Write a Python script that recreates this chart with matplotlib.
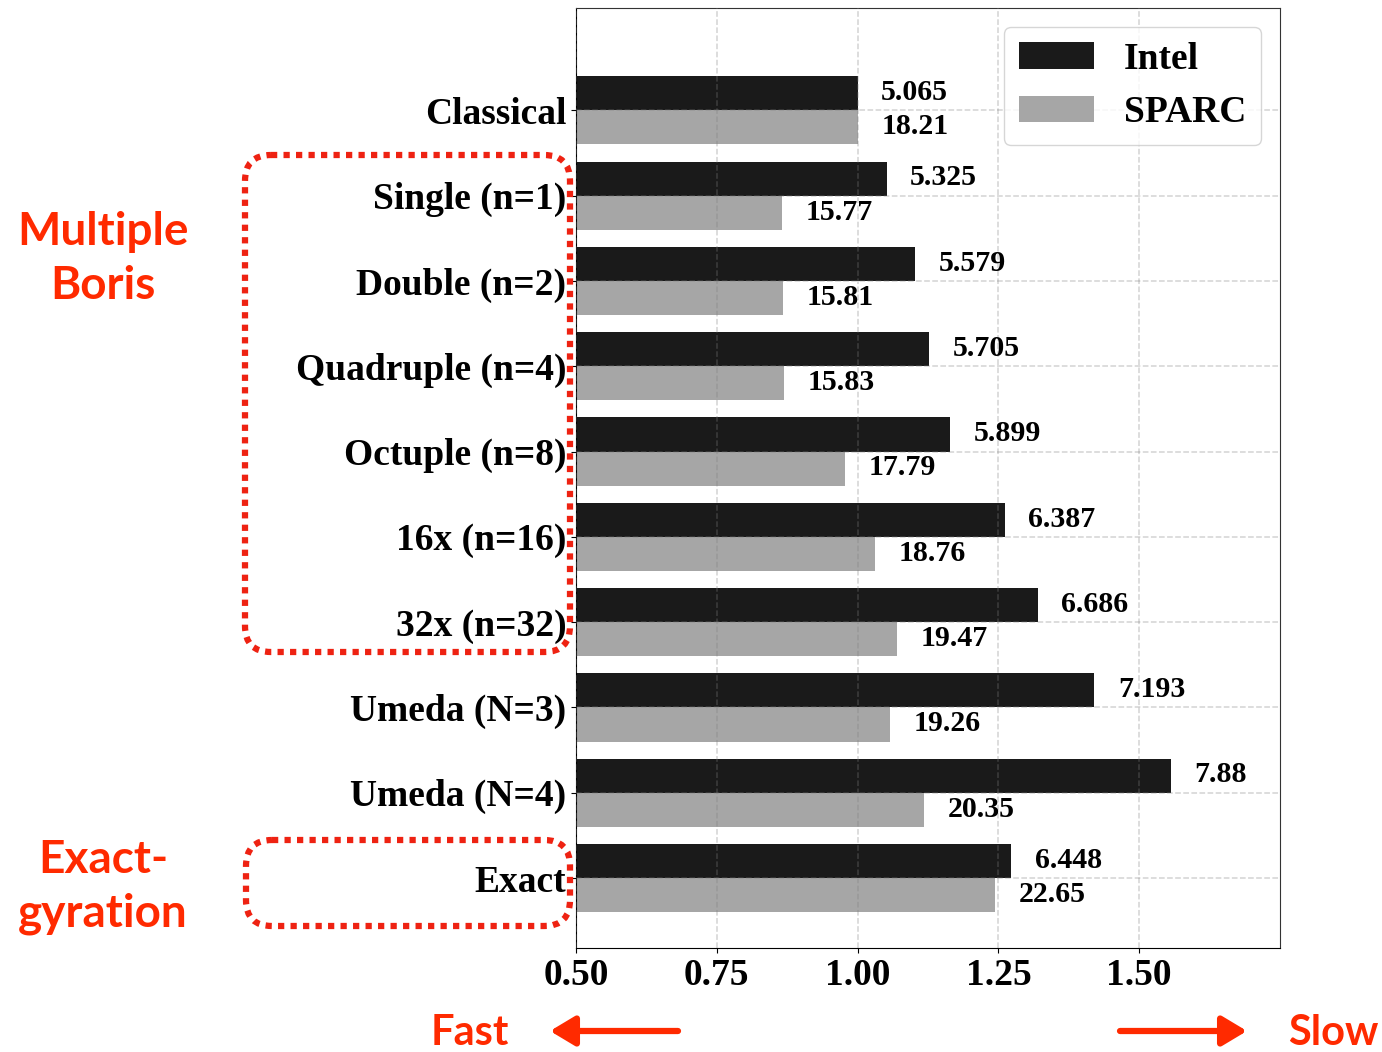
import numpy as np
import matplotlib.pyplot as plt
from matplotlib.patches import FancyBboxPatch

# run times (seconds) per pusher, normalised to Classical below
methods = ['Classical', 'Single (n=1)', 'Double (n=2)', 'Quadruple (n=4)',
           'Octuple (n=8)', '16x (n=16)', '32x (n=32)', 'Umeda (N=3)',
           'Umeda (N=4)', 'Exact']
intel = [5.065, 5.325, 5.579, 5.705, 5.899, 6.387, 6.686, 7.193, 7.88, 6.448]
sparc = [18.21, 15.77, 15.81, 15.83, 17.79, 18.76, 19.47, 19.26, 20.35, 22.65]
xticks = [0.50, 0.75, 1.00, 1.25, 1.50]

intel_rel = np.array(intel) / intel[0]
sparc_rel = np.array(sparc) / sparc[0]

serif = 'Liberation Serif'
red = '#ff2a00'
box_red = '#ee2212'

fig = plt.figure(figsize=(13.82, 10.52), dpi=100)
ax = fig.add_axes([0.4168, 0.0989, 0.9262 - 0.4168, 0.9924 - 0.0989])

y = np.arange(len(methods))
h = 0.4
ax.barh(y - h / 2, intel_rel - 0.5, height=h, left=0.5, color='#1a1a1a', label='Intel')
ax.barh(y + h / 2, sparc_rel - 0.5, height=h, left=0.5, color='#a6a6a6', label='SPARC')

for yi, r, v in zip(y, intel_rel, intel):
    ax.annotate(f'{v:g}', (r, yi - h / 2), xytext=(17, 0.5), textcoords='offset points',
                va='center', ha='left', fontsize=21.5, fontweight='bold', family=serif)
for yi, r, v in zip(y, sparc_rel, sparc):
    ax.annotate(f'{v:g}', (r, yi + h / 2), xytext=(17, 0.5), textcoords='offset points',
                va='center', ha='left', fontsize=21.5, fontweight='bold', family=serif)

ax.set_xlim(0.5, 1.75)
ax.set_ylim(9.82, -1.2)
ax.set_yticks(y)
ax.set_yticklabels(methods)
ax.set_xticks(xticks)
ax.set_xticklabels([f'{t:.2f}' for t in xticks])
for lab in ax.get_xticklabels() + ax.get_yticklabels():
    lab.set_fontsize(27)
    lab.set_fontweight('bold')
    lab.set_family(serif)

ax.set_axisbelow(False)
ax.grid(True, linestyle='--', color='gray', alpha=0.35, linewidth=1.1)
for s in ['top', 'right']:
    ax.spines[s].set_color('#333333')

leg = ax.legend(loc='upper right', prop={'family': serif, 'weight': 'bold', 'size': 27})

# decorations around the axes, placed in pixel units
ov = fig.add_axes([0, 0, 1, 1])
ov.set_xlim(0, 1382)
ov.set_ylim(1052, 0)
ov.axis('off')

for (x0, y0, w, hh) in [(245, 155, 325, 497), (246, 840, 324, 86)]:
    ov.add_patch(FancyBboxPatch((x0, y0), w, hh, boxstyle='round,pad=0,rounding_size=26',
                                fill=False, edgecolor=box_red, linewidth=4.5,
                                linestyle=(0, (1, 1))))

sans = 'Lato'
ov.text(103, 259, 'Multiple\nBoris', color=red, fontsize=33, fontweight='bold',
        family=sans, ha='center', va='center', linespacing=1.35)
ov.text(103, 887, 'Exact-\ngyration', color=red, fontsize=33, fontweight='bold',
        family=sans, ha='center', va='center', linespacing=1.35)
ov.text(470, 1033, 'Fast', color=red, fontsize=30, fontweight='bold',
        family=sans, ha='center', va='center')
ov.text(1333, 1033, 'Slow', color=red, fontsize=30, fontweight='bold',
        family=sans, ha='center', va='center')

arrow = dict(arrowstyle='-|>,head_length=0.5,head_width=0.3', color=red, lw=4.5,
             mutation_scale=30, shrinkA=0, shrinkB=0)
ov.annotate('', xy=(550, 1031), xytext=(678, 1031), arrowprops=arrow)
ov.annotate('', xy=(1247, 1031), xytext=(1120, 1031), arrowprops=arrow)

fig.savefig('out.png', dpi=100, facecolor='white')
